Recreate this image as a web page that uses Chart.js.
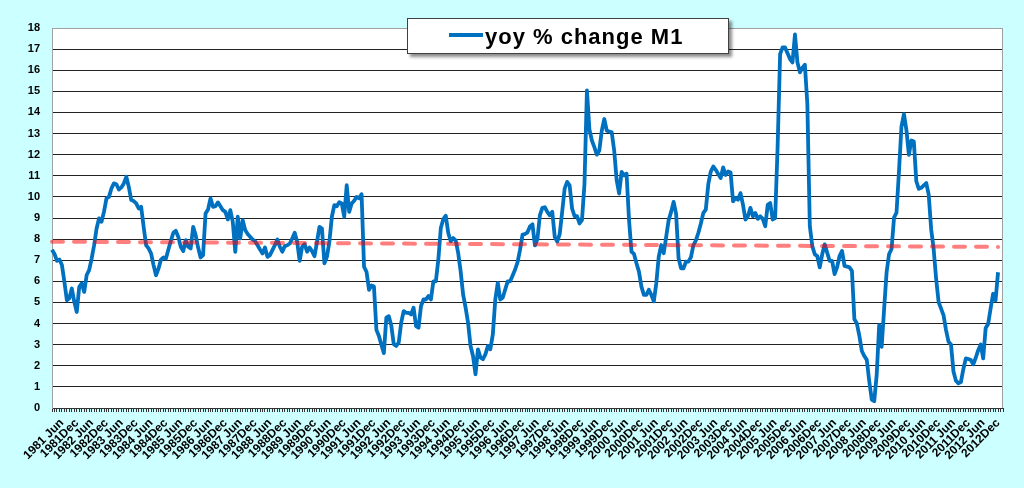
<!DOCTYPE html>
<html>
<head>
<meta charset="utf-8">
<script src="https://cdn.jsdelivr.net/npm/chart.js@4.4.1/dist/chart.umd.min.js"></script>
<style>
  html, body { margin: 0; padding: 0; background: #ccffff; }
  #wrap { position: relative; width: 1024px; height: 488px; }
  canvas { display: block; }
</style>
</head>
<body>
<div id="wrap"><canvas id="c" width="1024" height="488"></canvas></div>
<script>
// ---- Data ----
const SERIES_LABEL = 'yoy % change M1';
const START_YEAR = 1981;          // first category: 1981 Feb
const START_MONTH_INDEX = 1;      // 0 = Jan
const CATEGORY_COUNT = 385;       // monthly categories, 1981 Feb .. 2013 Feb
const MONTH_NAMES = ['Jan','Feb','Mar','Apr','May','Jun','Jul','Aug','Sep','Oct','Nov','Dec'];
const LABELED_MONTHS = ['Jun', 'Dec'];

// yoy % change of M1, monthly, 1981 Feb .. 2012 Dec
const m1Yoy = [
  7.5, 7.3, 6.97, 7.03, 6.77, 5.98, 5.1, 5.2, 5.66, 5.03, 4.55, 5.74,
  5.9, 5.5, 6.3, 6.53, 7.08, 7.71, 8.5, 8.98, 8.82, 9.3, 9.93, 10.0,
  10.4, 10.64, 10.6, 10.35, 10.45, 10.64, 10.95, 10.48, 9.85, 9.8, 9.69, 9.45,
  9.53, 8.58, 7.71, 7.56, 7.32, 6.77, 6.29, 6.6, 7.03, 7.13, 7.08, 7.51,
  7.92, 8.3, 8.39, 8.1, 7.64, 7.43, 7.95, 7.64, 7.56, 8.58, 8.19, 7.6,
  7.13, 7.24, 9.21, 9.4, 9.93, 9.53, 9.56, 9.74, 9.56, 9.37, 9.29, 8.93,
  9.37, 8.82, 7.4, 9.06, 8.03, 8.9, 8.43, 8.24, 8.11, 7.98, 7.9, 7.71,
  7.51, 7.32, 7.6, 7.16, 7.24, 7.48, 7.71, 7.98, 7.64, 7.4, 7.67, 7.71,
  7.79, 8.03, 8.3, 7.87, 6.97, 7.64, 7.76, 7.4, 7.6, 7.43, 7.19, 7.87,
  8.58, 8.5, 6.85, 7.16, 7.87, 9.06, 9.61, 9.56, 9.75, 9.69, 9.06, 10.56,
  9.29, 9.69, 9.82, 10.0, 9.93, 10.13, 6.69, 6.45, 5.6, 5.8, 5.75, 3.7,
  3.41, 3.0, 2.6, 4.28, 4.35, 3.91, 3.02, 2.94, 3.1, 4.04, 4.59, 4.51,
  4.51, 4.43, 4.75, 3.88, 3.8, 4.83, 5.14, 5.14, 5.3, 5.14, 6.0, 6.0,
  7.03, 8.53, 8.95, 9.11, 8.29, 7.9, 8.05, 7.94, 7.35, 6.48, 5.38, 4.75,
  4.04, 2.94, 2.46, 1.6, 2.78, 2.39, 2.31, 2.54, 2.94, 2.78, 3.49, 5.14,
  5.93, 5.14, 5.22, 5.61, 6.0, 6.0, 6.28, 6.56, 6.91, 7.5, 8.21, 8.24,
  8.32, 8.6, 8.7, 7.7, 8.0, 9.13, 9.48, 9.51, 9.29, 9.13, 9.29, 8.11,
  7.88, 8.24, 9.29, 10.39, 10.71, 10.55, 9.45, 9.09, 9.09, 8.74, 8.9, 10.6,
  15.05, 13.2, 12.67, 12.36, 12.0, 12.2, 13.14, 13.69, 13.14, 13.1, 13.06, 12.2,
  10.79, 10.16, 11.18, 11.02, 11.1, 8.9, 7.4, 7.3, 6.86, 6.46, 5.75, 5.36,
  5.36, 5.6, 5.36, 5.05, 5.91, 7.17, 7.72, 7.33, 8.11, 8.9, 9.29, 9.76,
  9.21, 7.09, 6.62, 6.62, 6.93, 6.93, 7.15, 7.72, 7.94, 8.3, 8.74, 9.24,
  9.4, 10.6, 11.2, 11.44, 11.28, 11.09, 10.89, 11.4, 11.04, 11.2, 11.15, 9.79,
  9.95, 9.87, 10.18, 9.63, 8.93, 9.08, 9.48, 9.08, 9.24, 8.96, 9.08, 8.96,
  8.61, 9.63, 9.71, 8.93, 9.0, 12.4, 16.76, 17.08, 17.08, 16.8, 16.53, 16.37,
  17.7, 16.37, 15.9, 16.11, 16.26, 14.4, 8.61, 7.67, 7.28, 7.2, 6.66, 7.28,
  7.75, 7.36, 6.97, 6.97, 6.34, 6.66, 7.2, 7.44, 6.73, 6.7, 6.66, 6.5,
  4.2, 4.0, 3.42, 2.7, 2.46, 2.28, 1.26, 0.4, 0.32, 1.57, 3.92, 2.9,
  4.7, 6.43, 7.29, 7.53, 9.02, 9.25, 11.21, 13.33, 13.92, 13.17, 11.99, 12.67,
  12.62, 10.74, 10.38, 10.43, 10.54, 10.66, 10.11, 8.47, 7.53, 6.12, 5.02, 4.71,
  4.39, 3.69, 3.14, 3.01, 1.73, 1.29, 1.17, 1.23, 1.85, 2.35, 2.32, 2.27,
  2.07, 2.38, 2.74, 3.01, 2.35, 3.79, 3.98, 4.71, 5.41, 5.1, 6.43
];

// dashed trend line: value at first and last data month
const trendStart = 7.88;
const trendEnd = 7.63;

const yMin = 0, yMax = 18, yStep = 1;

// ---- Build categories / datasets from the arrays ----
const categories = [];
for (let k = 0; k < CATEGORY_COUNT; k++) {
  const mi = (START_MONTH_INDEX + k) % 12;
  const yr = START_YEAR + Math.floor((START_MONTH_INDEX + k) / 12);
  const mon = MONTH_NAMES[mi];
  categories.push(mon === 'Jun' ? yr + ' ' + mon : yr + mon);
}
const trendData = categories.map(() => null);
trendData[0] = trendStart;
trendData[m1Yoy.length - 1] = trendEnd;

const FONT = "Arial, 'Liberation Sans', sans-serif";

const bgPlugin = {
  id: 'bgPlugin',
  beforeDraw(chart) {
    const { ctx, chartArea: a } = chart;
    ctx.save();
    ctx.fillStyle = '#ccffff';
    ctx.fillRect(0, 0, chart.width, chart.height);
    ctx.fillStyle = '#ffffff';
    ctx.fillRect(a.left, a.top, a.right - a.left, a.bottom - a.top);
    ctx.restore();
  },
  beforeDatasetsDraw(chart) {
    const { ctx, chartArea: a } = chart;
    ctx.save();
    ctx.strokeStyle = '#a0a0a0';
    ctx.lineWidth = 1;
    ctx.beginPath();
    ctx.moveTo(Math.round(a.right) - 0.5, a.top);
    ctx.lineTo(Math.round(a.right) - 0.5, a.bottom);
    ctx.stroke();
    ctx.restore();
  },
  afterDraw(chart) {
    const { ctx } = chart;
    const ds = chart.data.datasets[0];
    const bx = 407, by = 18, bw = 322, bh = 36;
    ctx.save();
    ctx.shadowColor = 'rgba(0,0,0,0.45)';
    ctx.shadowOffsetX = 3;
    ctx.shadowOffsetY = 3;
    ctx.shadowBlur = 3;
    ctx.fillStyle = '#ffffff';
    ctx.fillRect(bx, by, bw, bh);
    ctx.restore();
    ctx.save();
    ctx.strokeStyle = '#404040';
    ctx.lineWidth = 1;
    ctx.strokeRect(bx + 0.5, by + 0.5, bw - 1, bh - 1);
    ctx.strokeStyle = ds.borderColor;
    ctx.lineWidth = 4;
    ctx.beginPath();
    ctx.moveTo(449, 35);
    ctx.lineTo(483, 35);
    ctx.stroke();
    ctx.fillStyle = '#000000';
    ctx.font = 'bold 22px ' + FONT;
    ctx.textBaseline = 'alphabetic';
    ctx.textAlign = 'left';
    if ('letterSpacing' in ctx) ctx.letterSpacing = '1px';
    ctx.fillText(ds.label, 485, 44);
    ctx.restore();
  }
};

new Chart(document.getElementById('c'), {
  type: 'line',
  data: {
    labels: categories,
    datasets: [
      {
        label: SERIES_LABEL,
        data: m1Yoy,
        borderColor: '#0070c0',
        borderWidth: 3.8,
        pointRadius: 0,
        tension: 0,
        borderJoinStyle: 'round',
        order: 1
      },
      {
        label: 'trend',
        data: trendData,
        spanGaps: true,
        borderColor: 'rgba(255,0,0,0.5)',
        borderWidth: 4,
        borderDash: [11, 11],
        borderCapStyle: 'round',
        pointRadius: 0,
        order: 0
      }
    ]
  },
  options: {
    responsive: false,
    animation: false,
    devicePixelRatio: 1,
    layout: { padding: { top: 28, right: 21, left: 0, bottom: 0 } },
    plugins: { legend: { display: false }, tooltip: { enabled: false } },
    scales: {
      x: {
        type: 'category',
        offset: false,
        afterFit(scale) { scale.height = 80; },
        grid: {
          display: true,
          drawOnChartArea: false,
          drawTicks: true,
          tickLength: 4,
          color: '#333333'
        },
        border: { display: true, color: '#333333', width: 1 },
        ticks: {
          autoSkip: false,
          maxRotation: 45,
          minRotation: 45,
          padding: 4,
          color: '#000000',
          font: { family: FONT, size: 12, weight: 'bold' },
          callback(value, index) {
            const lab = categories[index];
            return LABELED_MONTHS.some(m => lab.endsWith(m)) ? lab : '';
          }
        }
      },
      y: {
        min: yMin,
        max: yMax,
        afterFit(scale) { scale.width = 52; },
        grid: {
          drawTicks: false,
          color: (c) => (c.tick && c.tick.value === yMax) ? '#a0a0a0' : '#222222',
          lineWidth: 1
        },
        border: { display: true, color: '#a0a0a0', width: 1 },
        ticks: {
          stepSize: yStep,
          padding: 12,
          color: '#000000',
          font: { family: FONT, size: 11, weight: 'bold' }
        }
      }
    }
  },
  plugins: [bgPlugin]
});
</script>
</body>
</html>
